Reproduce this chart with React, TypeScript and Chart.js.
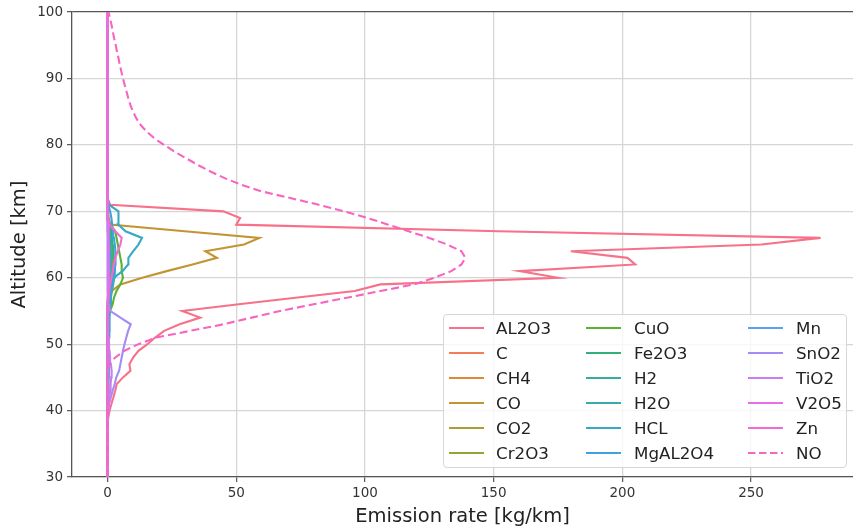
import React, { useEffect, useRef } from 'react';
import { Chart, registerables } from 'chart.js';

Chart.register(...registerables);

// Altitude [km] for every profile
const ALTITUDE = [
  30, 31, 32, 33, 34, 35, 36, 37, 38, 39,
  40, 41, 42, 43, 44, 45, 46, 47, 48, 49,
  50, 51, 52, 53, 54, 55, 56, 57, 58, 59,
  60, 61, 62, 63, 64, 65, 66, 67, 68, 69,
  70, 71, 72, 73, 74, 75, 76, 77, 78, 79,
  80, 81, 82, 83, 84, 85, 86, 87, 88, 89,
  90, 91, 92, 93, 94, 95, 96, 97, 98, 99,
  100,
];

// Emission rate [kg/km] per species, same order as ALTITUDE
const AL2O3 = [
  0, 0, 0, 0, 0, 0, 0, 0, 0, 0.3,
  0.8, 1.5, 2.3, 3, 3.6, 6, 8.9, 8.5, 10, 12,
  15.5, 18.5, 22, 28, 36, 29, 51, 73, 96, 106,
  175, 160, 205, 202, 180, 254, 277, 152, 50, 51.5,
  45, 1, 0, 0, 0, 0, 0, 0, 0, 0,
  0, 0, 0, 0, 0, 0, 0, 0, 0, 0,
  0, 0, 0, 0, 0, 0, 0, 0, 0, 0,
  0,
];
const C = [
  0, 0, 0, 0, 0, 0, 0, 0, 0, 0,
  0, 0, 0, 0, 0, 0, 0, 0, 0, 0,
  0, 0, 0, 0, 0, 0, 0.2, 0.3, 0.4, 0.5,
  0.6, 0.6, 0.7, 0.7, 0.6, 0.6, 0.5, 0.4, 0.2, 0,
  0, 0, 0, 0, 0, 0, 0, 0, 0, 0,
  0, 0, 0, 0, 0, 0, 0, 0, 0, 0,
  0, 0, 0, 0, 0, 0, 0, 0, 0, 0,
  0,
];
const CH4 = [
  0, 0, 0, 0, 0, 0, 0, 0, 0, 0,
  0, 0, 0, 0, 0, 0, 0, 0, 0, 0,
  0, 0, 0, 0, 0, 0, 0.3, 0.5, 0.7, 1,
  1.2, 1.3, 1.3, 1.2, 1.1, 1, 0.9, 0.7, 0.3, 0,
  0, 0, 0, 0, 0, 0, 0, 0, 0, 0,
  0, 0, 0, 0, 0, 0, 0, 0, 0, 0,
  0, 0, 0, 0, 0, 0, 0, 0, 0, 0,
  0,
];
const CO = [
  0, 0, 0, 0, 0, 0, 0, 0, 0, 0,
  0, 0, 0, 0, 0, 0, 0, 0, 0, 0,
  0, 0, 0, 0, 0, 0, 0.3, 0.8, 1.5, 5,
  13.5, 23, 33, 42.5, 38, 53, 59, 30, 1, 0.5,
  0.3, 0, 0, 0, 0, 0, 0, 0, 0, 0,
  0, 0, 0, 0, 0, 0, 0, 0, 0, 0,
  0, 0, 0, 0, 0, 0, 0, 0, 0, 0,
  0,
];
const CO2 = [
  0, 0, 0, 0, 0, 0, 0, 0, 0, 0,
  0, 0, 0, 0, 0, 0, 0, 0, 0, 0,
  0, 0, 0, 0, 0, 0.3, 0.5, 0.8, 1.2, 1.8,
  2.2, 2.5, 2.4, 2.2, 2, 1.8, 1.6, 1.3, 0.6, 0.2,
  0, 0, 0, 0, 0, 0, 0, 0, 0, 0,
  0, 0, 0, 0, 0, 0, 0, 0, 0, 0,
  0, 0, 0, 0, 0, 0, 0, 0, 0, 0,
  0,
];
const CR2O3 = [
  0, 0, 0, 0, 0, 0, 0, 0, 0, 0,
  0, 0, 0, 0, 0, 0, 0, 0, 0, 0,
  0, 0, 0, 0, 0.3, 0.5, 0.8, 1, 1.2, 1.5,
  1.8, 2, 2, 1.9, 1.7, 1.5, 1.4, 1.2, 0.5, 0.2,
  0, 0, 0, 0, 0, 0, 0, 0, 0, 0,
  0, 0, 0, 0, 0, 0, 0, 0, 0, 0,
  0, 0, 0, 0, 0, 0, 0, 0, 0, 0,
  0,
];
const CUO = [
  0, 0, 0, 0, 0, 0, 0, 0, 0, 0,
  0, 0, 0, 0, 0, 0, 0, 0, 0, 0,
  0, 0, 0, 0, 0.5, 1, 2, 2.5, 3.5, 5,
  6, 5.5, 5.5, 5, 4.5, 4, 3.5, 3, 1, 0.3,
  0, 0, 0, 0, 0, 0, 0, 0, 0, 0,
  0, 0, 0, 0, 0, 0, 0, 0, 0, 0,
  0, 0, 0, 0, 0, 0, 0, 0, 0, 0,
  0,
];
const FE2O3 = [
  0, 0, 0, 0, 0, 0, 0, 0, 0, 0,
  0, 0, 0, 0, 0, 0, 0, 0, 0, 0,
  0, 0, 0, 0, 0.3, 0.6, 1, 1.3, 1.7, 2.2,
  2.6, 2.8, 2.7, 2.5, 2.3, 2, 1.8, 1.5, 0.7, 0.2,
  0, 0, 0, 0, 0, 0, 0, 0, 0, 0,
  0, 0, 0, 0, 0, 0, 0, 0, 0, 0,
  0, 0, 0, 0, 0, 0, 0, 0, 0, 0,
  0,
];
const H2 = [
  0, 0, 0, 0, 0, 0, 0, 0, 0, 0,
  0, 0, 0, 0, 0, 0, 0, 0, 0, 0,
  0, 0, 0, 0, 0, 0, 0, 0.2, 0.3, 0.4,
  0.5, 0.6, 0.6, 0.6, 0.5, 0.5, 0.4, 0.3, 0.2, 0,
  0, 0, 0, 0, 0, 0, 0, 0, 0, 0,
  0, 0, 0, 0, 0, 0, 0, 0, 0, 0,
  0, 0, 0, 0, 0, 0, 0, 0, 0, 0,
  0,
];
const H2O = [
  0, 0, 0, 0, 0, 0, 0, 0, 0, 0,
  0, 0, 0, 0, 0, 0, 0, 0, 0, 0,
  0, 0, 0, 0, 0.2, 0.4, 0.6, 0.8, 1, 1.2,
  1.4, 1.5, 1.5, 1.4, 1.3, 1.2, 1, 0.8, 0.4, 0.1,
  0, 0, 0, 0, 0, 0, 0, 0, 0, 0,
  0, 0, 0, 0, 0, 0, 0, 0, 0, 0,
  0, 0, 0, 0, 0, 0, 0, 0, 0, 0,
  0,
];
const HCL = [
  0, 0, 0, 0, 0, 0, 0, 0, 0, 0,
  0, 0.2, 0.3, 0.3, 0.4, 0.4, 0.5, 0.5, 0.5, 0.5,
  0.5, 0.6, 0.6, 0.6, 0.7, 0.7, 0.8, 0.9, 1, 1.2,
  2.5, 5.8, 8, 8.1, 10, 12, 13.4, 7, 4.2, 4.2,
  4.3, 0.5, 0, 0, 0, 0, 0, 0, 0, 0,
  0, 0, 0, 0, 0, 0, 0, 0, 0, 0,
  0, 0, 0, 0, 0, 0, 0, 0, 0, 0,
  0,
];
const MGAL2O4 = [
  0, 0, 0, 0, 0, 0, 0, 0, 0, 0,
  0, 0, 0, 0, 0, 0.2, 0.3, 0.3, 0.4, 0.4,
  0.5, 0.5, 0.6, 0.6, 0.7, 0.8, 1, 1.2, 1.5, 2,
  2.4, 2.8, 3, 3.2, 3, 2.8, 2.5, 2.2, 1.8, 1.5,
  1, 0.3, 0, 0, 0, 0, 0, 0, 0, 0,
  0, 0, 0, 0, 0, 0, 0, 0, 0, 0,
  0, 0, 0, 0, 0, 0, 0, 0, 0, 0,
  0,
];
const MN = [
  0, 0, 0, 0, 0, 0, 0, 0, 0, 0,
  0, 0, 0, 0, 0, 0, 0, 0, 0, 0,
  0, 0, 0, 0, 0, 0, 0, 0.2, 0.3, 0.4,
  0.5, 0.6, 0.7, 0.7, 0.6, 0.5, 0.5, 0.4, 0.2, 0,
  0, 0, 0, 0, 0, 0, 0, 0, 0, 0,
  0, 0, 0, 0, 0, 0, 0, 0, 0, 0,
  0, 0, 0, 0, 0, 0, 0, 0, 0, 0,
  0,
];
const SNO2 = [
  0, 0, 0, 0, 0, 0, 0, 0, 0, 0,
  0.3, 0.6, 1.3, 2, 2.8, 3.4, 4.5, 5, 5.5, 6,
  6.6, 7.3, 8, 9, 5, 1, 0.5, 0.3, 0, 0,
  0, 0, 0, 0, 0, 0, 0, 0, 0, 0,
  0, 0, 0, 0, 0, 0, 0, 0, 0, 0,
  0, 0, 0, 0, 0, 0, 0, 0, 0, 0,
  0, 0, 0, 0, 0, 0, 0, 0, 0, 0,
  0,
];
const TIO2 = [
  0, 0, 0, 0, 0, 0, 0, 0, 0, 0.1,
  0.2, 0.5, 0.8, 1, 1.2, 1.4, 1.6, 1.3, 1, 0.8,
  0.6, 0.5, 0.4, 0.3, 0.3, 0.3, 0.2, 0.2, 0.2, 0.2,
  0.2, 0.2, 0.2, 0.2, 0.2, 0.2, 0.2, 0.1, 0, 0,
  0, 0, 0, 0, 0, 0, 0, 0, 0, 0,
  0, 0, 0, 0, 0, 0, 0, 0, 0, 0,
  0, 0, 0, 0, 0, 0, 0, 0, 0, 0,
  0,
];
const V2O5 = [
  0, 0, 0, 0, 0, 0, 0, 0, 0, 0,
  0, 0, 0, 0, 0, 0, 0, 0, 0, 0,
  0, 0, 0, 0, 0, 0, 0, 0, 0.2, 0.3,
  0.4, 0.4, 0.5, 0.5, 0.5, 0.4, 0.4, 0.3, 0.2, 0,
  0, 0, 0, 0, 0, 0, 0, 0, 0, 0,
  0, 0, 0, 0, 0, 0, 0, 0, 0, 0,
  0, 0, 0, 0, 0, 0, 0, 0, 0, 0,
  0,
];
const ZN = [
  0, 0, 0, 0, 0, 0, 0, 0, 0, 0,
  0, 0, 0, 0, 0, 0, 0, 0, 0, 0,
  0, 0, 0, 0, 0, 0, 0, 0.4, 0.6, 1,
  1.5, 2, 2.5, 3, 4, 5, 5.5, 3, 0.8, 0.3,
  0, 0, 0, 0, 0, 0, 0, 0, 0, 0,
  0, 0, 0, 0, 0, 0, 0, 0, 0, 0,
  0, 0, 0, 0, 0, 0, 0, 0, 0, 0,
  0,
];
const NO = [
  0, 0, 0, 0, 0, 0, 0, 0, 0, 0,
  0, 0, 0, 0, 0, 0, 0, 0.5, 3, 6.5,
  12, 19, 32, 45, 56, 67, 80, 93, 106, 119,
  127, 133.5, 137.5, 139, 137.5, 132, 125, 117, 109, 101,
  92, 82, 71, 60, 52, 45.5, 40, 35, 30.5, 26,
  22, 18.2, 15.2, 12.9, 11.2, 9.9, 8.9, 8.1, 7.4, 6.7,
  6, 5.4, 4.8, 4.3, 3.7, 3.2, 2.6, 2.1, 1.6, 1,
  0.4,
];

const SERIES_LABELS = [
  'AL2O3', 'C', 'CH4', 'CO', 'CO2', 'Cr2O3', 'CuO', 'Fe2O3', 'H2',
  'H2O', 'HCL', 'MgAL2O4', 'Mn', 'SnO2', 'TiO2', 'V2O5', 'Zn', 'NO',
];
const SERIES_VALUES = [
  AL2O3, C, CH4, CO, CO2, CR2O3, CUO, FE2O3, H2,
  H2O, HCL, MGAL2O4, MN, SNO2, TIO2, V2O5, ZN, NO,
];
const SERIES_COLORS = [
  '#f77189', '#f47c57', '#dc8932', '#c39532', '#ae9d31', '#97a431', '#5bb133', '#33b07a', '#35ad9c',
  '#37abaa', '#38a9c5', '#3ba3e0', '#5a9ff0', '#a48cf4', '#c97df4', '#e86ef0', '#f56ad0', '#f665c0',
];
const DASHED = ['NO'];

const X_TICKS = [0, 50, 100, 150, 200, 250];
const Y_TICKS = [30, 40, 50, 60, 70, 80, 90, 100];
const X_MIN = -13.8;
const X_MAX = 289.6;
const Y_MIN = 30;
const Y_MAX = 100;

const FONT = "'DejaVu Sans', 'Liberation Sans', sans-serif";
const GRID = '#d6d6d6';
const SPINE = '#555555';

export default function App() {
  const canvasRef = useRef<HTMLCanvasElement | null>(null);

  useEffect(() => {
    const canvas = canvasRef.current;
    if (!canvas) return;
    const n = SERIES_LABELS.length;
    const datasets = SERIES_LABELS.map((label, i) => ({
      label,
      data: ALTITUDE.map((alt, j) => ({ x: SERIES_VALUES[i][j], y: alt })),
      borderColor: SERIES_COLORS[i],
      backgroundColor: SERIES_COLORS[i],
      borderWidth: 2.1,
      borderDash: DASHED.includes(label) ? [8, 4] : [],
      pointRadius: 0,
      showLine: true,
      fill: false,
      tension: 0,
      order: n - i,
    }));

    const chart = new Chart(canvas, {
      type: 'scatter',
      data: { datasets },
      options: {
        animation: false,
        responsive: false,
        devicePixelRatio: 1,
        events: [],
        layout: { padding: { top: 12, right: 0, bottom: 0, left: 0 } },
        plugins: { legend: { display: false }, tooltip: { enabled: false } },
        scales: {
          x: {
            type: 'linear',
            min: X_MIN,
            max: X_MAX,
            afterBuildTicks: (s: any) => {
              s.ticks = X_TICKS.map((v) => ({ value: v }));
            },
            afterFit: (s: any) => {
              s.height = 53;
            },
            grid: {
              color: GRID,
              lineWidth: 1.3,
              drawTicks: true,
              tickLength: 5,
              tickColor: SPINE,
              tickWidth: 1.2,
            },
            border: { color: SPINE, width: 1.3 },
            ticks: { font: { family: FONT, size: 13.5 }, color: '#333', padding: 3, maxRotation: 0 },
            title: {
              display: true,
              text: 'Emission rate [kg/km]',
              font: { family: FONT, size: 19.5 },
              color: '#222',
              padding: { top: 0, bottom: 1 },
            },
          },
          y: {
            type: 'linear',
            min: Y_MIN,
            max: Y_MAX,
            afterBuildTicks: (s: any) => {
              s.ticks = Y_TICKS.map((v) => ({ value: v }));
            },
            afterFit: (s: any) => {
              s.width = 72;
            },
            grid: {
              color: (ctx: any) => (ctx.tick && ctx.tick.value === Y_MAX ? SPINE : GRID),
              lineWidth: 1.3,
              drawTicks: true,
              tickLength: 5,
              tickColor: SPINE,
              tickWidth: 1.2,
            },
            border: { color: SPINE, width: 1.3 },
            ticks: { font: { family: FONT, size: 13.5 }, color: '#333', padding: 4 },
            title: {
              display: true,
              text: 'Altitude [km]',
              font: { family: FONT, size: 19.5 },
              color: '#222',
              padding: { top: 8, bottom: 0 },
            },
          },
        },
      },
    });
    return () => chart.destroy();
  }, []);

  const colX = [5, 142, 304];
  const textX = [52, 190, 352];
  const rowY0 = 13.3;
  const rowStep = 24.88;
  const rows = 6;

  return (
    <div style={{ position: 'absolute', left: 0, top: 0, width: 853, height: 530, background: '#fff', overflow: 'hidden' }}>
      <canvas ref={canvasRef} width={853} height={530} style={{ display: 'block', width: 853, height: 530 }} />
      <div
        style={{
          position: 'absolute',
          left: 443,
          top: 314,
          width: 404,
          height: 154,
          boxSizing: 'border-box',
          border: '1px solid #d6d6d6',
          borderRadius: 4,
          background: 'rgba(255,255,255,0.8)',
        }}
      >
        {SERIES_LABELS.map((label, i) => {
          const c = Math.floor(i / rows);
          const r = i % rows;
          const cy = rowY0 + r * rowStep;
          const dashed = DASHED.includes(label);
          return (
            <React.Fragment key={label}>
              <svg
                width={36}
                height={6}
                style={{ position: 'absolute', left: colX[c], top: cy - 3 }}
              >
                <line
                  x1={0}
                  y1={3}
                  x2={35}
                  y2={3}
                  stroke={SERIES_COLORS[i]}
                  strokeWidth={2}
                  strokeDasharray={dashed ? '7.5 3.5' : undefined}
                />
              </svg>
              <div
                style={{
                  position: 'absolute',
                  left: textX[c],
                  top: cy - 11,
                  height: 22,
                  lineHeight: '22px',
                  fontFamily: FONT,
                  fontSize: 16.7,
                  color: '#222',
                  whiteSpace: 'nowrap',
                }}
              >
                {label}
              </div>
            </React.Fragment>
          );
        })}
      </div>
    </div>
  );
}
